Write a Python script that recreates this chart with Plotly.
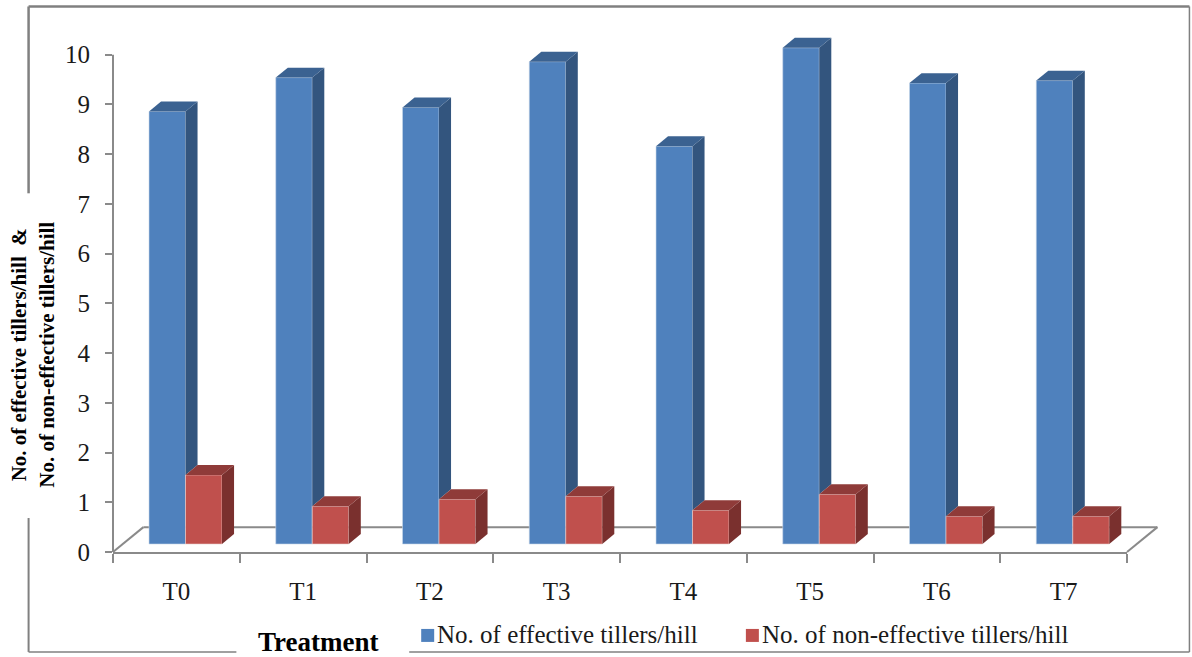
import plotly.graph_objects as go

# Treatment means
categories = ["T0", "T1", "T2", "T3", "T4", "T5", "T6", "T7"]
effective = [8.70, 9.38, 8.78, 9.70, 8.00, 9.98, 9.27, 9.32]
non_effective = [1.39, 0.76, 0.90, 0.96, 0.68, 1.00, 0.56, 0.56]
y_ticks = list(range(11))

NAME_A = "No. of effective tillers/hill"
NAME_B = "No. of non-effective tillers/hill"
SERIF = "Liberation Serif"
GRAY = "#8a8a8a"
FRAME = "#808080"
INK = "#1a1a1a"

# Pixel layout of the plotting box inside the 1192x657 page.
# The value range runs past 10 so the tallest bars keep their tops.
W, H = 1192, 657
Y_MAX = 11
UNIT = 49.77
LEFT, RIGHT, BOTTOM = 112.5, 1127.5, 552.0
TOP = BOTTOM - Y_MAX * UNIT


def px(x):
    return (x - LEFT) / (RIGHT - LEFT)


def py(y):
    return (BOTTOM - y) / (BOTTOM - TOP)


# Pseudo-3D extrusion, in axis units
BAR_W = 0.288
BAR_START = 0.284
BASE = 0.16
SIDE_DX = 0.095
SIDE_DY = 0.20
FLOOR_DX = 0.24
FLOOR_DY = 0.50

BLUE, BLUE_SIDE, BLUE_TOP = "#4F81BD", "#33557E", "#3B6291"
RED, RED_SIDE, RED_TOP = "#C0504D", "#7A302E", "#8F3B39"

fig = go.Figure()

left_a = [i + BAR_START for i in range(len(categories))]
left_b = [x + BAR_W for x in left_a]

fig.add_bar(x=[x + BAR_W / 2 for x in left_a], y=effective, base=BASE, width=BAR_W,
            marker=dict(color=BLUE, line=dict(color="#C9D8EA", width=0.6)),
            name=NAME_A, showlegend=False)
fig.add_bar(x=[x + BAR_W / 2 for x in left_b], y=non_effective, base=BASE, width=BAR_W,
            marker=dict(color=RED, line=dict(color="#EAD0CF", width=0.6)),
            name=NAME_B, showlegend=False)


def face(xs, ys, color):
    fig.add_scatter(x=xs, y=ys, mode="lines", fill="toself", fillcolor=color,
                    line=dict(width=0, color=color), showlegend=False, hoverinfo="skip")


for xa, xb, a, b in zip(left_a, left_b, effective, non_effective):
    ta, tb = a + BASE, b + BASE
    xr = xa + BAR_W
    # Blue side is hidden below the top of the neighbouring red bar
    face([xr, xr + SIDE_DX, xr + SIDE_DX, xr],
         [ta, ta + SIDE_DY, tb + SIDE_DY, tb], BLUE_SIDE)
    face([xa, xa + SIDE_DX, xr + SIDE_DX, xr],
         [ta, ta + SIDE_DY, ta + SIDE_DY, ta], BLUE_TOP)
    xr = xb + BAR_W
    face([xr, xr + SIDE_DX, xr + SIDE_DX, xr],
         [tb, tb + SIDE_DY, BASE + SIDE_DY, BASE], RED_SIDE)
    face([xb, xb + SIDE_DX, xr + SIDE_DX, xr],
         [tb, tb + SIDE_DY, tb + SIDE_DY, tb], RED_TOP)

n = len(categories)
shapes = []


def seg(x0, y0, x1, y1, color=GRAY, width=2, layer="below"):
    shapes.append(dict(type="line", xref="paper", yref="paper", x0=x0, y0=y0, x1=x1, y1=y1,
                       line=dict(color=color, width=width), layer=layer))


# Value axis line stops at the last tick
seg(0, 0, 0, 10 / Y_MAX)

# Floor outline behind the bars
seg(FLOOR_DX / n, FLOOR_DY / Y_MAX, 1 + FLOOR_DX / n, FLOOR_DY / Y_MAX)
seg(0, 0, FLOOR_DX / n, FLOOR_DY / Y_MAX)
seg(1, 0, 1 + FLOOR_DX / n, FLOOR_DY / Y_MAX)

# Outer frame, open where the axis titles sit
seg(px(28), py(6), px(1190), py(6), FRAME, 2.5)
seg(px(28), py(6), px(28), py(193), FRAME, 2.5)
seg(px(28), py(518), px(28), py(652), FRAME, 2)
seg(px(28), py(652), px(236), py(652), FRAME, 1.5)
seg(px(409), py(652), px(1190), py(652), FRAME, 1.5)
seg(px(1190), py(6), px(1190), py(652), FRAME, 1.5)

# Legend keys
for x0, color in ((421, BLUE), (746, RED)):
    shapes.append(dict(type="rect", xref="paper", yref="paper",
                       x0=px(x0), x1=px(x0 + 13), y0=py(642), y1=py(629),
                       fillcolor=color, line=dict(width=0)))

annotations = [
    dict(text=NAME_A, x=px(435), y=py(635), xref="paper", yref="paper", xanchor="left",
         yanchor="middle", showarrow=False, font=dict(family=SERIF, size=25, color=INK)),
    dict(text=NAME_B, x=px(760), y=py(635), xref="paper", yref="paper", xanchor="left",
         yanchor="middle", showarrow=False, font=dict(family=SERIF, size=25, color=INK)),
    dict(text="<b>Treatment</b>", x=px(318), y=py(642), xref="paper", yref="paper",
         xanchor="center", yanchor="middle", showarrow=False,
         font=dict(family=SERIF, size=27, color="#000000")),
    dict(text="<b>No. of effective tillers/hill  &<br>No. of non-effective tillers/hill</b>",
         x=px(32), y=py(355), xref="paper", yref="paper", xanchor="center", yanchor="middle",
         textangle=-90, showarrow=False,
         font=dict(family=SERIF, size=21, color="#000000")),
]

fig.update_layout(
    width=W, height=H, autosize=False,
    margin=dict(l=LEFT, r=W - RIGHT, t=TOP, b=H - BOTTOM, pad=0),
    paper_bgcolor="white", plot_bgcolor="white",
    barmode="overlay", showlegend=False,
    shapes=shapes, annotations=annotations,
    font=dict(family=SERIF, color=INK),
)
fig.update_xaxes(
    range=[0, n], tickvals=[i + 0.5 for i in range(n)], ticktext=categories,
    ticks="", showgrid=False, zeroline=False, showline=True, linecolor=GRAY, linewidth=2,
    tickfont=dict(family=SERIF, size=25, color=INK), ticklabelstandoff=16,
    minor=dict(tickvals=list(range(n + 1)), ticks="outside", ticklen=9, tickwidth=2,
               tickcolor=GRAY, showgrid=False),
)
fig.update_yaxes(
    range=[0, Y_MAX], tickvals=y_ticks, ticks="outside", ticklen=7, tickwidth=2, tickcolor=GRAY,
    showgrid=False, zeroline=False, showline=False,
    tickfont=dict(family=SERIF, size=25, color=INK), ticklabelstandoff=10,
)

fig.write_html("out.html")
